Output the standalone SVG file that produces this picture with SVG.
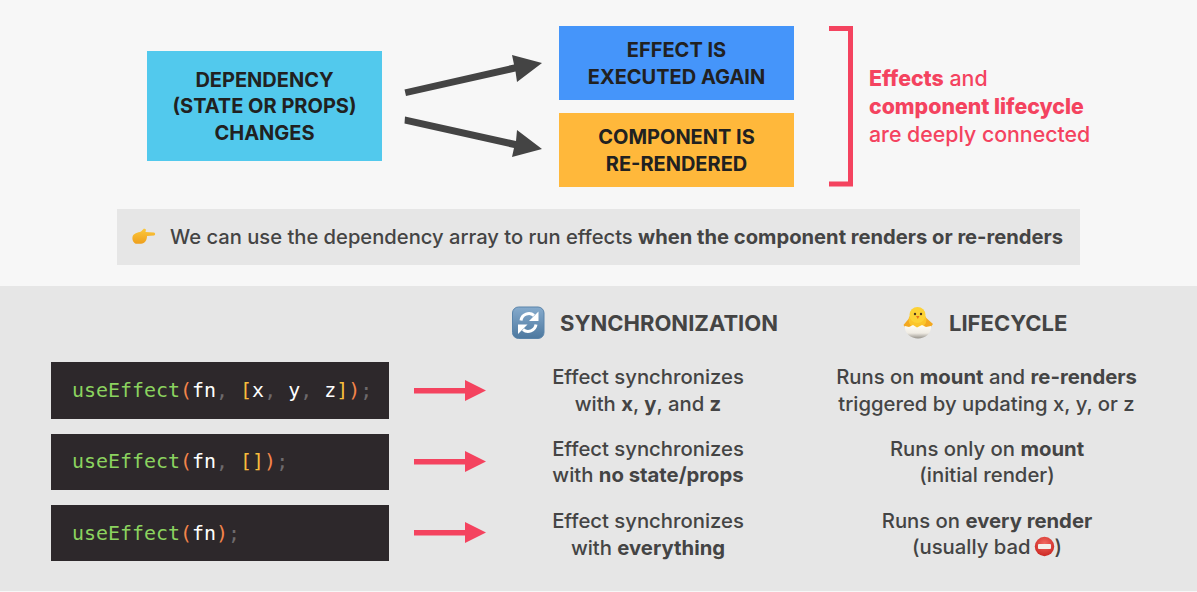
<svg xmlns="http://www.w3.org/2000/svg" width="1197" height="592" viewBox="0 0 1197 592">
<style>
text{font-family:Inter,"Noto Sans","Liberation Sans",sans-serif}
.t{font-size:20px;font-weight:700;fill:#212121;text-anchor:middle}
.b{font-size:20.300px;font-weight:500;fill:#444;text-anchor:middle}
.h{font-size:22px;font-weight:700;fill:#444}
.r{font-size:21.300px;font-weight:500;fill:#f4435f}
.s{font-weight:800}
.bb{font-weight:700}
.c{font-family:"DejaVu Sans Mono","Liberation Mono",monospace;font-size:19.950px;fill:#fff}
.g{fill:#8bd35f}.o{fill:#f3844a}.y{fill:#f7bd3c}.m{fill:#6d6a6c}
.code{fill:#2d282b}
.ra{fill:#f4435f}
</style>
<defs>
<linearGradient id="gs" x1="0" y1="0" x2="0" y2="1"><stop offset="0" stop-color="#86abcd"/><stop offset="1" stop-color="#4d789f"/></linearGradient>
<linearGradient id="gshell" x1="0" y1="0" x2="0" y2="1"><stop offset="0" stop-color="#fffdf6"/><stop offset="0.6" stop-color="#efebe3"/><stop offset="1" stop-color="#96928b"/></linearGradient>
<linearGradient id="gh" x1="0" y1="0" x2="0" y2="1"><stop offset="0" stop-color="#fcc93c"/><stop offset="1" stop-color="#ee9f1c"/></linearGradient>
<radialGradient id="gn" cx="0.5" cy="0.35" r="0.7"><stop offset="0" stop-color="#f2695f"/><stop offset="1" stop-color="#c9231f"/></radialGradient>
</defs>
<rect width="1197" height="592" fill="#f7f7f7"/>
<rect y="286" width="1197" height="305" fill="#e6e6e6"/>
<g id="node-dependency"><rect x="147" y="51" width="235" height="110" fill="#52c9ed"/>
<text class="t" x="264.500" y="86.500">DEPENDENCY</text><text class="t" x="264.500" y="112.500">(STATE OR PROPS)</text><text class="t" x="264.500" y="139.500">CHANGES</text></g>
<g id="node-effect"><rect x="559" y="26" width="235" height="74" fill="#4595fa"/>
<text class="t" x="676.500" y="57">EFFECT IS</text><text class="t" x="676.500" y="84">EXECUTED AGAIN</text></g>
<g id="node-component"><rect x="559" y="113" width="235" height="74" fill="#ffb83b"/>
<text class="t" x="676.500" y="144">COMPONENT IS</text><text class="t" x="676.500" y="171">RE-RENDERED</text></g>
<g id="connectors">
<g fill="#444"><polygon points="404.500,89.500 514,64.500 512,55 542,63 517,82 515.500,71.500 406,96"/>
<polygon points="405,116.500 516,141 517,130 542,149 512,157 514,148 404.500,123.500"/></g>
<polyline points="829,28.500 850.500,28.500 850.500,184 829,184" fill="none" stroke="#f4435f" stroke-width="5"/>
<g class="ra"><polygon points="414,388 465,388 465,380 486,390.500 465,401 465,393.500 414,393.500"/>
<polygon points="414,459 465,459 465,451 486,461.500 465,472 465,464.500 414,464.500"/>
<polygon points="414,530 465,530 465,522 486,532.500 465,543 465,535.500 414,535.500"/></g>
</g>
<g id="note-lifecycle"><text class="r" x="869" y="86"><tspan class="s">Effects</tspan> and</text><text class="r" x="869" y="114"><tspan class="s">component lifecycle</tspan></text><text class="r" x="869" y="142">are deeply connected</text></g>
<g id="note-array"><rect x="117" y="209" width="963" height="56" fill="#e6e6e6"/>
<g id="pointing-hand"><path d="M132.500 237 C133 233.500 138 232.500 141 231.500 L144 228.500 L146 229.500 L145.500 232 L154 232.500 C155.500 233 155.500 235 154 235.500 L147 236 C147 240 145 243.500 141 243.800 L136 243.800 C133.500 243 132 240 132.500 237Z" fill="url(#gh)"/></g>
<text x="170" y="244" style="font-size:20.170px;font-weight:500;fill:#444">We can use the dependency array to run effects <tspan class="bb">when the component renders or re-renders</tspan></text></g>
<g id="col-sync"><g id="sync-icon"><rect x="512.500" y="307" width="31.500" height="31.500" rx="6" fill="url(#gs)" stroke="#5a84aa" stroke-width="1"/><path d="M521 320.500a8 8 0 0 1 13-5" fill="none" stroke="#fff" stroke-width="3"/><path d="M538.500 311.500v9.500h-9.500z" fill="#fff"/><path d="M536 324.500a8 8 0 0 1-13 5" fill="none" stroke="#fff" stroke-width="3"/><path d="M518 334v-9.500h9.500z" fill="#fff"/></g>
<text class="h" x="560" y="331">SYNCHRONIZATION</text></g>
<g id="col-life"><g id="chick-icon"><path d="M903.500 325 L911 316 H924 L933 324 L930 328 H906z" fill="#f3a81f"/><ellipse cx="917.500" cy="320" rx="9" ry="8" fill="#fbc52a"/><circle cx="917.500" cy="315" r="8" fill="#fdd235"/><circle cx="915" cy="314" r="1.200" fill="#4a3520"/><circle cx="921" cy="314" r="1.200" fill="#4a3520"/><path d="M916 316h3.500l-1.700 3z" fill="#e8751a"/><path d="M905 326l4 1 4-2 4 2.500 5-2.500 4 2 5-1c1 7-6 12.500-13 12.500s-14-5.500-13-12.500z" fill="url(#gshell)"/></g>
<text class="h" x="949" y="331">LIFECYCLE</text></g>
<g id="row-1">
<rect class="code" x="51" y="362" width="338" height="57"/>
<text class="c" x="72" y="397"><tspan class="g">useEffect</tspan><tspan class="o">(</tspan>fn<tspan class="m">,</tspan> <tspan class="y">[</tspan>x<tspan class="m">,</tspan> y<tspan class="m">,</tspan> z<tspan class="y">]</tspan><tspan class="o">)</tspan><tspan class="m">;</tspan></text>
<text class="b" x="648" y="384">Effect synchronizes</text><text class="b" x="648" y="411">with <tspan class="bb">x</tspan>, <tspan class="bb">y</tspan>, and <tspan class="bb">z</tspan></text>
<text class="b" x="986.500" y="384">Runs on <tspan class="bb">mount</tspan> and <tspan class="bb">re-renders</tspan></text><text class="b" x="986.500" y="411">triggered by updating x, y, or z</text></g>
<g id="row-2">
<rect class="code" x="51" y="434" width="338" height="56"/>
<text class="c" x="72" y="468"><tspan class="g">useEffect</tspan><tspan class="o">(</tspan>fn<tspan class="m">,</tspan> <tspan class="y">[]</tspan><tspan class="o">)</tspan><tspan class="m">;</tspan></text>
<text class="b" x="648" y="456">Effect synchronizes</text><text class="b" x="648" y="482">with <tspan class="bb">no state/props</tspan></text>
<text class="b" x="987" y="456">Runs only on <tspan class="bb">mount</tspan></text><text class="b" x="987" y="482">(initial render)</text></g>
<g id="row-3">
<rect class="code" x="51" y="505" width="338" height="56"/>
<text class="c" x="72" y="540"><tspan class="g">useEffect</tspan><tspan class="o">(</tspan>fn<tspan class="o">)</tspan><tspan class="m">;</tspan></text>
<text class="b" x="648" y="528">Effect synchronizes</text><text class="b" x="648" y="555">with <tspan class="bb">everything</tspan></text>
<text class="b" x="987" y="528">Runs on <tspan class="bb">every render</tspan></text>
<text class="b" x="912" y="554" style="text-anchor:start">(usually bad</text>
<circle cx="1044.500" cy="546.500" r="9.700" fill="url(#gn)"/><rect x="1038" y="544" width="13" height="5" rx="1" fill="#f4efe9"/>
<text class="b" x="1054.500" y="554" style="text-anchor:start">)</text></g>
</svg>
